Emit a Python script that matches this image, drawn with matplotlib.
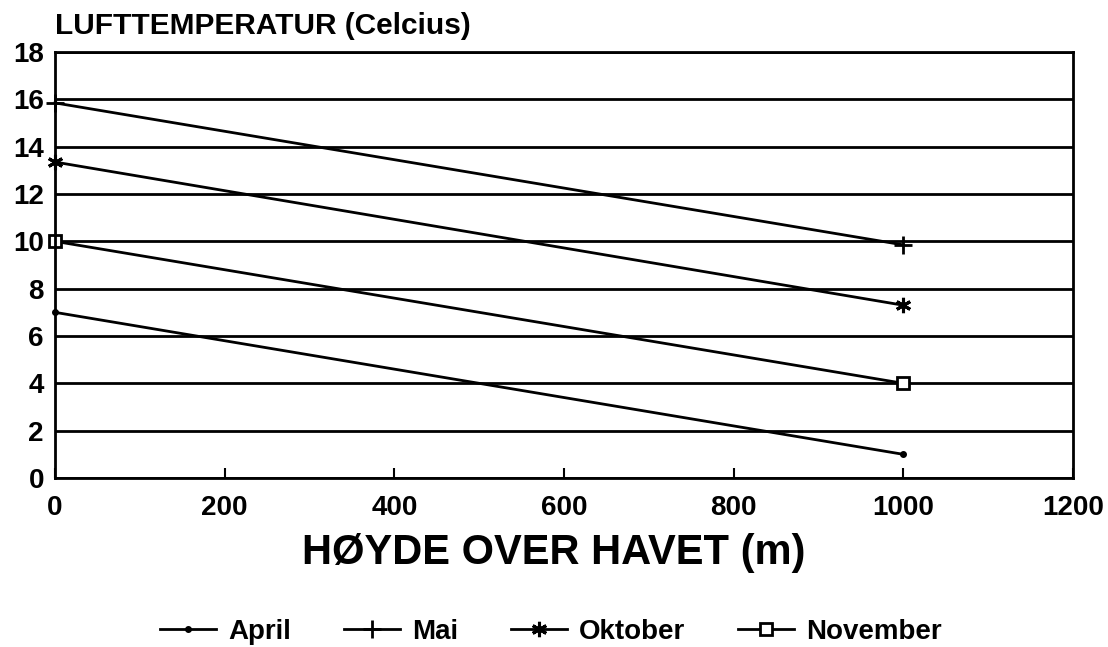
import matplotlib
matplotlib.use("Agg")
import matplotlib.pyplot as plt

plt.rcParams['font.family'] = ['Liberation Sans', 'DejaVu Sans']

heights = [0, 1000]
april = [7.0, 1.0]
mai = [15.85, 9.85]
oktober = [13.35, 7.3]
november = [10.0, 4.0]

series = [
    ("April", april, dict(marker='o', markersize=4)),
    ("Mai", mai, dict(marker='+', markersize=13, markeredgewidth=2)),
    ("Oktober", oktober, dict(marker=(6, 2, 0), markersize=11, markeredgewidth=2.2)),
    ("November", november, dict(marker='s', markersize=8, markerfacecolor='white', markeredgewidth=2)),
]

xticks = [0, 200, 400, 600, 800, 1000, 1200]
yticks = [0, 2, 4, 6, 8, 10, 12, 14, 16, 18]

fig = plt.figure(figsize=(11.08, 6.47), dpi=100)
ax = fig.add_axes([55/1108, 1 - 478/647, (1073-55)/1108, (478-52)/647])

for name, vals, st in series:
    ax.plot(heights, vals, color='black', linewidth=2, label=name, clip_on=False, **st)

ax.set_xlim(0, 1200)
ax.set_ylim(0, 18)
ax.set_xticks(xticks)
ax.set_yticks(yticks)
ax.yaxis.grid(True, color='black', linewidth=2)
ax.set_axisbelow(True)
for s in ax.spines.values():
    s.set_linewidth(2)
ax.tick_params(axis='x', direction='in', length=7, width=1.5, pad=12, labelsize=20)
ax.tick_params(axis='y', length=0, pad=8, labelsize=20)
for lab in ax.get_xticklabels() + ax.get_yticklabels():
    lab.set_fontweight('bold')

fig.text(554/1108, 1 - 553/647, "HØYDE OVER HAVET (m)", fontsize=30, fontweight='bold',
         ha='center', va='center')
fig.text(55/1108, 1 - 26/647, "LUFTTEMPERATUR (Celcius)", fontsize=21.5, fontweight='bold',
         va='center', ha='left')

leg = fig.legend(loc='center', bbox_to_anchor=(551/1108, 1 - 632/647), ncol=4, frameon=False,
                 prop={'weight': 'bold', 'size': 20}, handlelength=2.0, columnspacing=1.9,
                 handletextpad=0.45, borderpad=0, borderaxespad=0)

fig.savefig("out.png", dpi=100)
